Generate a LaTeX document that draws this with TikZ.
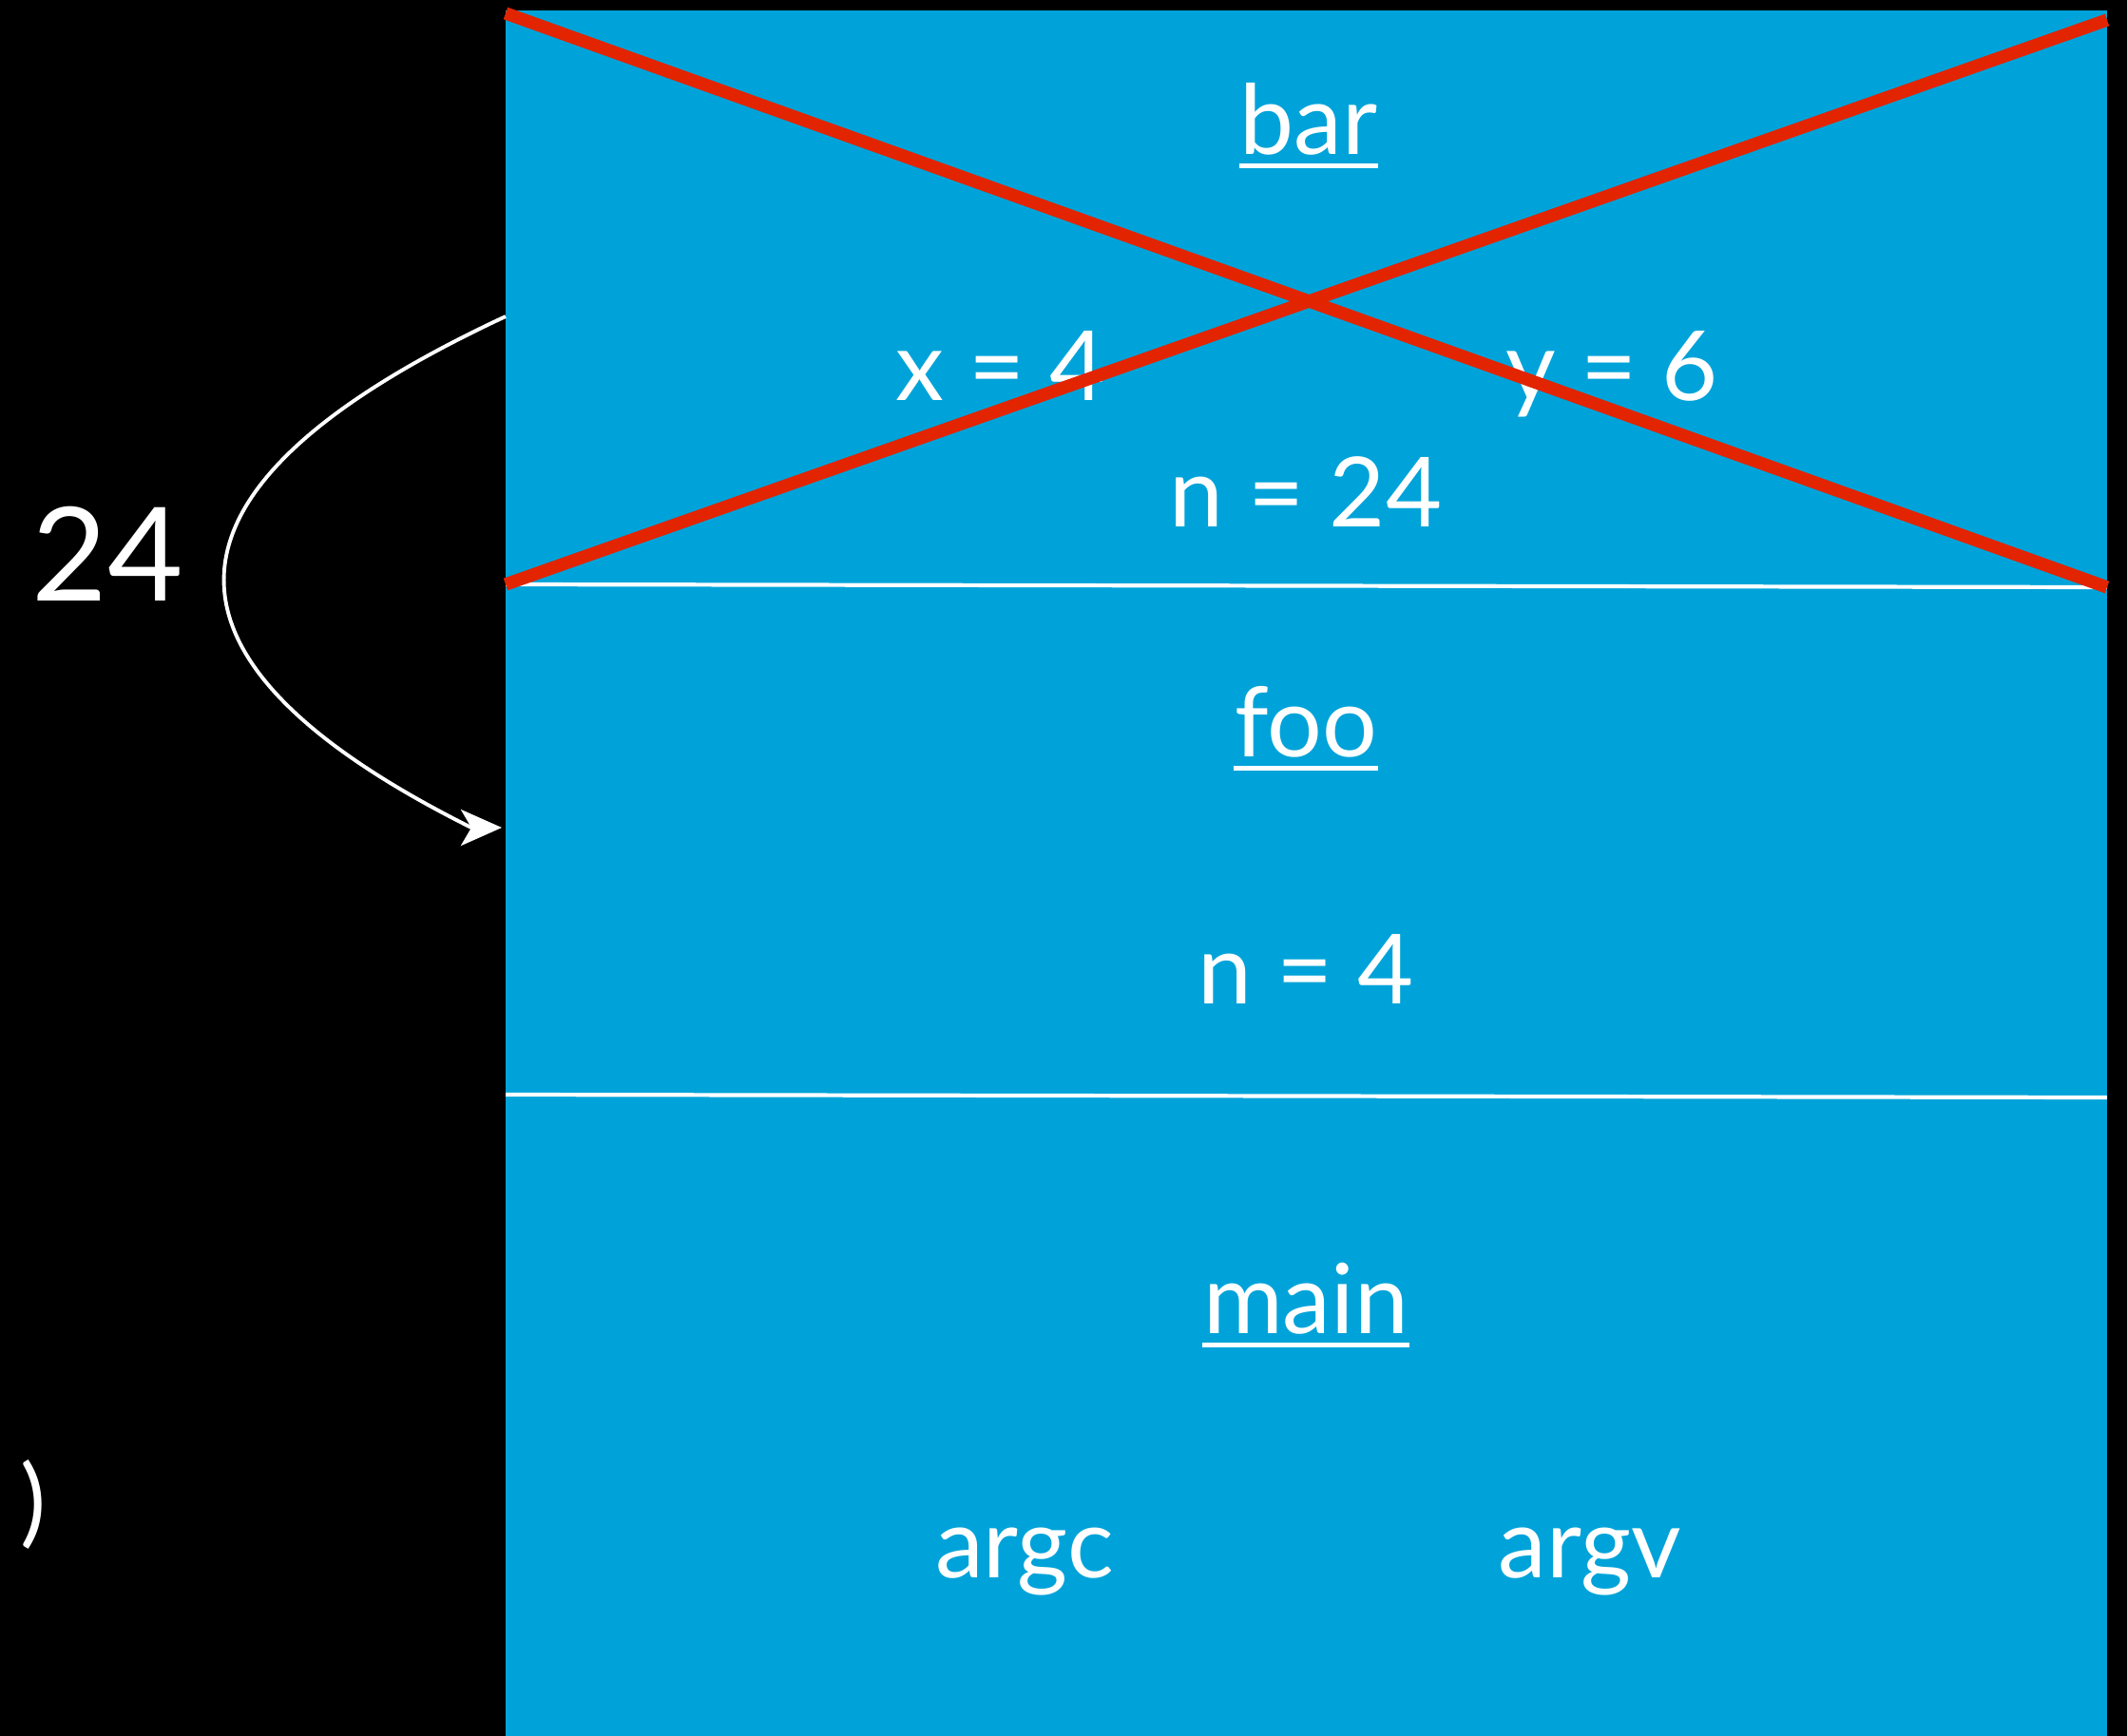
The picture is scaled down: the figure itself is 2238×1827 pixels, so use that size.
\documentclass[tikz,border=0pt]{standalone}
\usepackage{fontspec}
\setmainfont{Lato}
\usetikzlibrary{arrows.meta, positioning}
\definecolor{stackblue}{HTML}{00A3D9}
\definecolor{crossred}{HTML}{E22400}

\begin{document}
\begin{tikzpicture}[x=0.01cm, y=-0.01cm, every node/.style={text=white, inner sep=0pt, font=\fontsize{29}{34}\selectfont}]
    \useasboundingbox (0,0) rectangle (2238,1827);
    \fill[black] (0,0) rectangle (2238,1827);
    \fill[stackblue] (532,11) rectangle (2217,1827);
    % frame dividers
    \draw[white, line width=1.2pt] (532,615) -- (2217,618);
    \draw[white, line width=1.2pt] (532,1152) -- (2217,1155);
    % bar frame
    \node[anchor=base] (bar) at (1377,162) {bar};
    \node[anchor=base] (barx) at (1053,421) {x = 4};
    \node[anchor=base] (bary) at (1696,421) {y = 6};
    \node[anchor=base] (barn) at (1374,554) {n = 24};
    % foo frame
    \node[anchor=base] (foo) at (1374,796) {foo};
    \node[anchor=base] (foon) at (1374,1056) {n = 4};
    % main frame
    \node[anchor=base] (main) at (1374,1403) {main};
    \node[anchor=base] (argc) at (1078,1660) {argc};
    \node[anchor=base] (argv) at (1673,1660) {argv};
    \draw[white, line width=1.4pt] ([yshift=-3.6pt]bar.base west) -- ([yshift=-3.6pt]bar.base east);
    \draw[white, line width=1.4pt] ([yshift=-3.6pt]foo.base west) -- ([yshift=-3.6pt]foo.base east);
    \draw[white, line width=1.4pt] ([yshift=-3.6pt]main.base west) -- ([yshift=-3.6pt]main.base east);
    % returned value
    \node[anchor=base, font=\fontsize{39}{45}\selectfont] (retval) at (113,632) {24};
    \node (paren) at (35,1583) {)};
    \coordinate (callsite) at (532,333);
    \coordinate (retnotch) at (496,871);
    \coordinate (retsite) at (528,871);
    \draw[white, line width=1.1pt, -{Stealth[length=4.3mm, width=3.8mm, inset=1.1mm]}] (callsite) .. controls (159,507) and (128,687) .. (retnotch) -- (retsite);
    % crossed out frame
    \draw[crossred, line width=3.8pt] (532,14) -- (2217,618);
    \draw[crossred, line width=3.8pt] (532,615) -- (2217,21);
  \end{tikzpicture}
\end{document}
